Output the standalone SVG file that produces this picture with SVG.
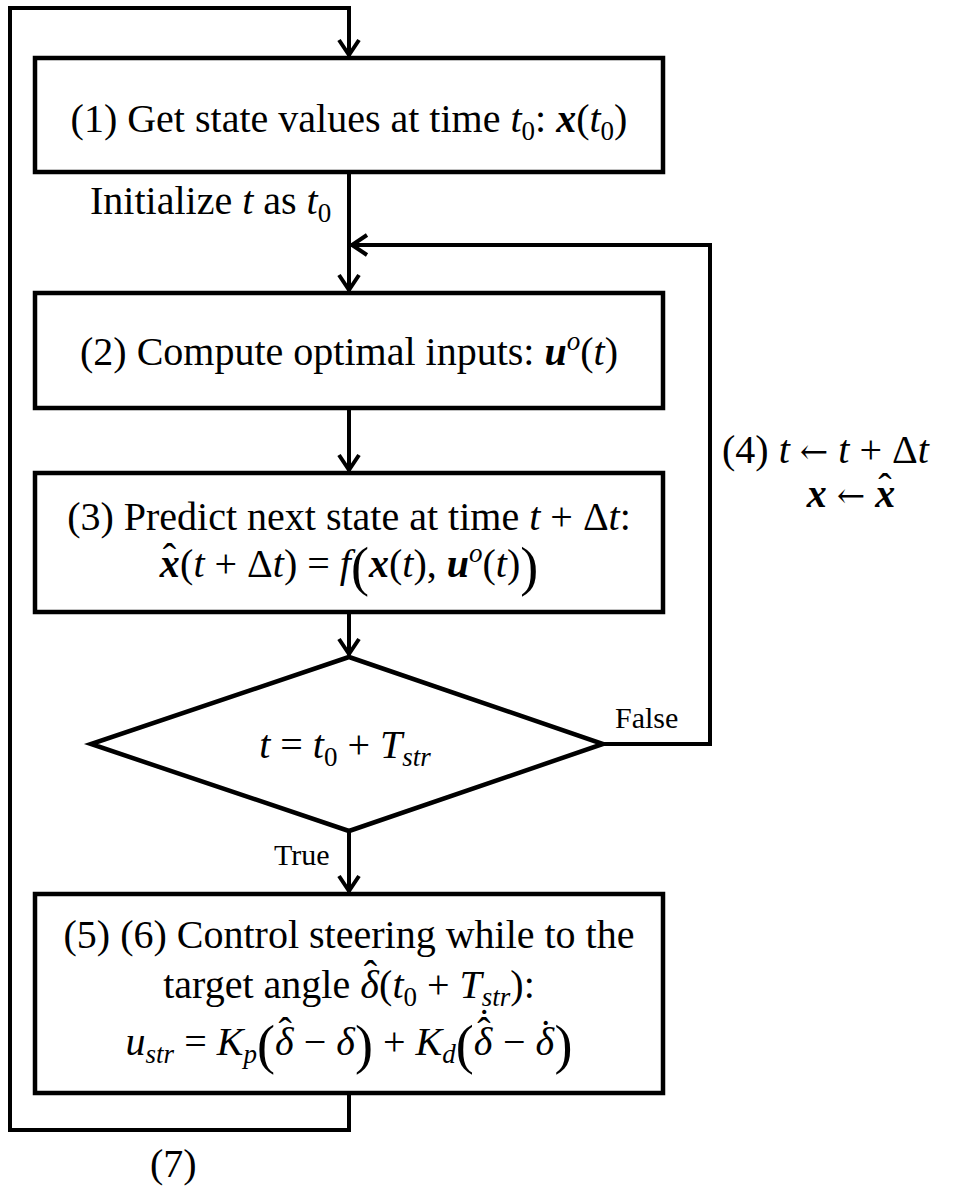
<svg xmlns="http://www.w3.org/2000/svg" width="954" height="1186" viewBox="0 0 954 1186">
<style>
.t{font-family:"Liberation Serif","Times New Roman",serif;font-size:40px;fill:#000}
.i{font-style:italic}
.b{font-weight:bold}
.s{font-size:27px}
.lbl{font-size:30px}
.big{font-size:54px}
.ar{font-family:"DejaVu Serif",serif;font-size:34px}
.node{fill:#fff;stroke:#000;stroke-width:4.5}
.conn{fill:none;stroke:#000;stroke-width:4}
</style>
<defs>
<marker id="arr" viewBox="-20 -12 24 24" refX="0" refY="0" markerWidth="24" markerHeight="24" markerUnits="userSpaceOnUse" orient="auto">
<path d="M-16,-10 L-1,0 L-16,10" fill="none" stroke="#000" stroke-width="4"/>
</marker>
</defs>
<rect width="954" height="1186" fill="#fff"/>
<g id="connectors">
<path class="conn" d="M349,1093 V1130 H10 V8 H349 V56" marker-end="url(#arr)"/>
<path class="conn" d="M349,172 V291" marker-end="url(#arr)"/>
<path class="conn" d="M603,744 H710 V245 H351" marker-end="url(#arr)"/>
<path class="conn" d="M349,408 V471" marker-end="url(#arr)"/>
<path class="conn" d="M349,612 V655" marker-end="url(#arr)"/>
<path class="conn" d="M349,831 V892" marker-end="url(#arr)"/>
</g>
<g id="node1">
<rect class="node" x="35" y="58" width="628" height="114"/>
<text class="t" x="349" y="132" text-anchor="middle">(1) Get state values at time <tspan class="i">t</tspan><tspan class="s" dy="8">0</tspan><tspan dy="-8">: </tspan><tspan class="b i">x</tspan>(<tspan class="i">t</tspan><tspan class="s" dy="8">0</tspan><tspan dy="-8">)</tspan></text>
</g>
<g id="label-init">
<text class="t" x="90" y="214">Initialize <tspan class="i">t</tspan> as <tspan class="i">t</tspan><tspan class="s" dy="8">0</tspan></text>
</g>
<g id="node2">
<rect class="node" x="35" y="293" width="628" height="115"/>
<text class="t" x="349" y="365" text-anchor="middle">(2) Compute optimal inputs: <tspan class="b i">u</tspan><tspan class="s i" dy="-15">o</tspan><tspan dy="15">(</tspan><tspan class="i">t</tspan>)</text>
</g>
<g id="node3">
<rect class="node" x="35" y="473" width="628" height="139"/>
<text class="t" x="349" y="530" text-anchor="middle">(3) Predict next state at time <tspan class="i">t</tspan> + Δ<tspan class="i">t</tspan>:</text>
<text class="t" x="349" y="577" text-anchor="middle"><tspan class="b i">x</tspan><tspan dx="-17" dy="-6">ˆ</tspan><tspan dx="4" dy="6">(</tspan><tspan class="i">t</tspan> + Δ<tspan class="i">t</tspan>) = <tspan class="i">f</tspan><tspan class="big" dy="8">(</tspan><tspan class="b i" dy="-8">x</tspan>(<tspan class="i">t</tspan>), <tspan class="b i">u</tspan><tspan class="s i" dy="-15">o</tspan><tspan dy="15">(</tspan><tspan class="i">t</tspan>)<tspan class="big" dy="8">)</tspan></text>
</g>
<g id="label-4">
<text class="t" x="722" y="463">(4) <tspan class="i">t</tspan> <tspan class="ar">←</tspan> <tspan class="i">t</tspan> + Δ<tspan class="i">t</tspan></text>
<text class="t" x="851" y="507" text-anchor="middle"><tspan class="b i">x</tspan> <tspan class="ar">←</tspan> <tspan class="b i">x</tspan><tspan dx="-17" dy="-6">ˆ</tspan></text>
</g>
<g id="node4">
<polygon class="node" points="349,657 603,744 349,831 91,744"/>
<text class="t" x="345" y="758" text-anchor="middle"><tspan class="i">t</tspan> = <tspan class="i">t</tspan><tspan class="s" dy="8">0</tspan><tspan dy="-8"> + </tspan><tspan class="i">T</tspan><tspan class="s i" dy="8">str</tspan></text>
</g>
<g id="label-false">
<text class="t lbl" x="615" y="728">False</text>
</g>
<g id="label-true">
<text class="t lbl" x="274" y="865">True</text>
</g>
<g id="node5">
<rect class="node" x="35" y="894" width="628" height="199"/>
<text class="t" x="349" y="948" text-anchor="middle">(5) (6) Control steering while to the</text>
<text class="t" x="349" y="998" text-anchor="middle">target angle <tspan class="i">δ</tspan><tspan dx="-15" dy="-10">ˆ</tspan><tspan dx="2" dy="10">(</tspan><tspan class="i">t</tspan><tspan class="s" dy="8">0</tspan><tspan dy="-8"> + </tspan><tspan class="i">T</tspan><tspan class="s i" dy="8">str</tspan><tspan dy="-8">):</tspan></text>
<text class="t" x="349" y="1055" text-anchor="middle"><tspan class="i">u</tspan><tspan class="s i" dy="8">str</tspan><tspan dy="-8"> = </tspan><tspan class="i">K</tspan><tspan class="s i" dy="8">p</tspan><tspan class="big" dy="0">(</tspan><tspan class="i" dy="-8">δ</tspan><tspan dx="-15" dy="-10">ˆ</tspan><tspan dx="2" dy="10"> − </tspan><tspan class="i">δ</tspan><tspan class="big" dy="8">)</tspan><tspan dy="-8"> + </tspan><tspan class="i">K</tspan><tspan class="s i" dy="8">d</tspan><tspan class="big" dy="0">(</tspan><tspan class="i" dy="-8">δ</tspan><tspan dx="-15" dy="-10">ˆ</tspan><tspan dx="-13" dy="-9">˙</tspan><tspan dx="2" dy="19"> − </tspan><tspan class="i">δ</tspan><tspan dx="-15" dy="-8">˙</tspan><tspan class="big" dx="2" dy="16">)</tspan></text>
</g>
<g id="label-7">
<text class="t" x="150" y="1177">(7)</text>
</g>
</svg>
